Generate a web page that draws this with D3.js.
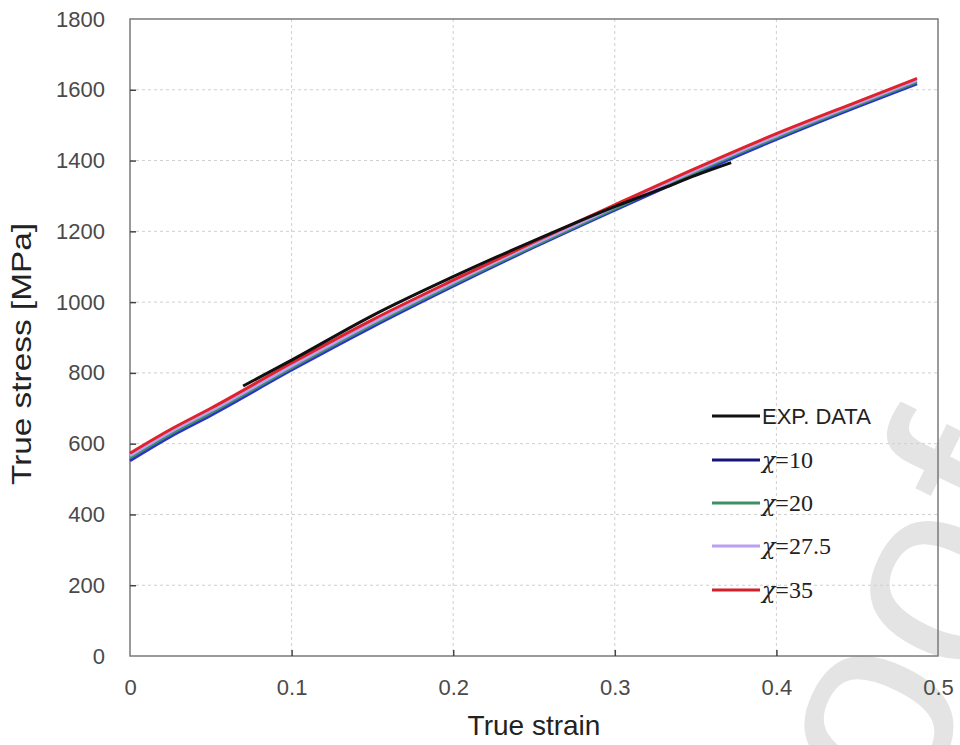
<!DOCTYPE html>
<html>
<head>
<meta charset="utf-8">
<script src="https://cdn.jsdelivr.net/npm/d3@7/dist/d3.min.js"></script>
<style>
  body { margin: 0; background: #fff; }
</style>
</head>
<body>
<div id="container"></div>
<script>
// data
let strain = [0, 0.025, 0.05, 0.1, 0.15, 0.2, 0.25, 0.3, 0.35, 0.4, 0.45, 0.487];
let chi10 = [552, 620, 680, 808, 930, 1045, 1155, 1260, 1362, 1460, 1552, 1617];
let chi20 = [560, 627, 687, 814, 936, 1050, 1159, 1264, 1367, 1465, 1557, 1622];
let chi275 = [566, 633, 693, 820, 942, 1056, 1164, 1269, 1372, 1470, 1561, 1627];
let chi35 = [573, 640, 700, 828, 950, 1062, 1170, 1275, 1378, 1476, 1566, 1632];
let expStrain = [0.07, 0.1, 0.15, 0.2, 0.25, 0.3, 0.33, 0.35, 0.372];
let expStress = [763, 836, 962, 1072, 1174, 1270, 1322, 1358, 1394];

let xTicks = [0, 0.1, 0.2, 0.3, 0.4, 0.5];
let yTicks = [0, 200, 400, 600, 800, 1000, 1200, 1400, 1600, 1800];

let legendNames = ["EXP. DATA", "=10", "=20", "=27.5", "=35"];
let colors = ["#111111", "#2a32c8", "#3f8f66", "#b9a0f0", "#e0222c"];
let legendColors = ["#111111", "#14147a", "#3f8f66", "#b9a0f0", "#d0202a"];

let sans = '"Liberation Sans", Arial, sans-serif';
let serif = '"Liberation Serif", "Times New Roman", serif';

let svg = d3.select('#container')
            .append('svg')
            .attr("width", 960)
            .attr("height", 745)
            .style('font-family', sans);

// faint watermark in the corner
svg.append('text')
    .attr('transform', 'translate(805,1040) rotate(-64)')
    .attr('font-size', 270)
    .attr('fill', '#e4e4e4')
    .text('proof');

let plotL = 130, plotR = 938, plotT = 19, plotB = 656;

let x = d3.scaleLinear().domain([0, 0.5]).range([plotL, plotR]);
let y = d3.scaleLinear().domain([0, 1800]).range([plotB, plotT]);

// grid
svg.append('g')
    .selectAll('line')
    .data(yTicks.slice(1, -1))
    .enter()
    .append('line')
    .attr('x1', plotL).attr('x2', plotR)
    .attr('y1', d => y(d)).attr('y2', d => y(d))
    .attr('stroke', '#cfcfcf')
    .attr('stroke-dasharray', '3,3');

svg.append('g')
    .selectAll('line')
    .data(xTicks.slice(1, -1))
    .enter()
    .append('line')
    .attr('y1', plotT).attr('y2', plotB)
    .attr('x1', d => x(d)).attr('x2', d => x(d))
    .attr('stroke', '#cfcfcf')
    .attr('stroke-dasharray', '3,3');

// frame
svg.append('rect')
    .attr('x', plotL).attr('y', plotT)
    .attr('width', plotR - plotL).attr('height', plotB - plotT)
    .attr('fill', 'none')
    .attr('stroke', '#7a7a7a')
    .attr('stroke-width', 1.5);

let xAxis = svg.append('g')
    .attr('transform', `translate(0,${plotB})`)
    .call(d3.axisBottom(x).tickValues(xTicks).tickSize(-6).tickPadding(23)
            .tickFormat(d => d === 0 ? "0" : d3.format(".1f")(d)));

let yAxis = svg.append('g')
    .attr('transform', `translate(${plotL},0)`)
    .call(d3.axisLeft(y).tickValues(yTicks).tickSize(-6).tickPadding(25)
            .tickFormat(d3.format("d")));

[xAxis, yAxis].forEach(a => {
    a.attr('font-family', null).attr('font-size', null);
    a.select('.domain').remove();
    a.selectAll('.tick line').attr('stroke', '#444').attr('stroke-width', 1.5);
    a.selectAll('.tick text')
        .style('font-size', '22px')
        .style('font-family', sans)
        .attr('fill', '#4a4a4a');
});
xAxis.selectAll('.tick line').filter(d => d === 0 || d === 0.5).remove();
yAxis.selectAll('.tick line').filter(d => d === 0 || d === 1800).remove();

// axis titles
svg.append('text')
    .attr('x', 534).attr('y', 735)
    .attr('text-anchor', 'middle')
    .style('font-size', '28px')
    .attr('fill', '#222')
    .text('True strain');

svg.append('text')
    .attr('transform', 'translate(31,354) rotate(-90)')
    .attr('text-anchor', 'middle')
    .style('font-size', '28px')
    .attr('textLength', 262)
    .attr('lengthAdjust', 'spacingAndGlyphs')
    .attr('fill', '#222')
    .text('True stress [MPa]');

// curves
let line = d3.line()
    .x(d => x(d[0]))
    .y(d => y(d[1]))
    .curve(d3.curveMonotoneX);

let models = [chi10, chi20, chi275, chi35];
models.forEach((vals, i) => {
    svg.append('path')
        .datum(strain.map((s, j) => [s, vals[j]]))
        .attr('d', line)
        .attr('fill', 'none')
        .attr('stroke', colors[i + 1])
        .attr('stroke-width', 3);
});

svg.append('path')
    .datum(expStrain.map((s, j) => [s, expStress[j]]))
    .attr('d', line)
    .attr('fill', 'none')
    .attr('stroke', colors[0])
    .attr('stroke-width', 3);

// legend
let legendY = [416, 460, 503, 546, 590];
let legend = svg.append('g');
legendNames.forEach((name, i) => {
    legend.append('line')
        .attr('x1', 712).attr('x2', 760)
        .attr('y1', legendY[i]).attr('y2', legendY[i])
        .attr('stroke', legendColors[i])
        .attr('stroke-width', 3);
    let t = legend.append('text')
        .attr('x', 762)
        .attr('y', legendY[i] + 8)
        .attr('fill', '#222');
    if (i === 0) {
        t.style('font-size', '22px').style('font-family', sans).text(name);
    } else {
        t.append('tspan')
            .style('font-size', '22px')
            .style('font-family', '"DejaVu Serif", serif')
            .style('font-style', 'italic')
            .text('\u03c7');
        t.append('tspan')
            .style('font-size', '24px')
            .style('font-family', serif)
            .text(name);
    }
});
</script>
</body>
</html>
